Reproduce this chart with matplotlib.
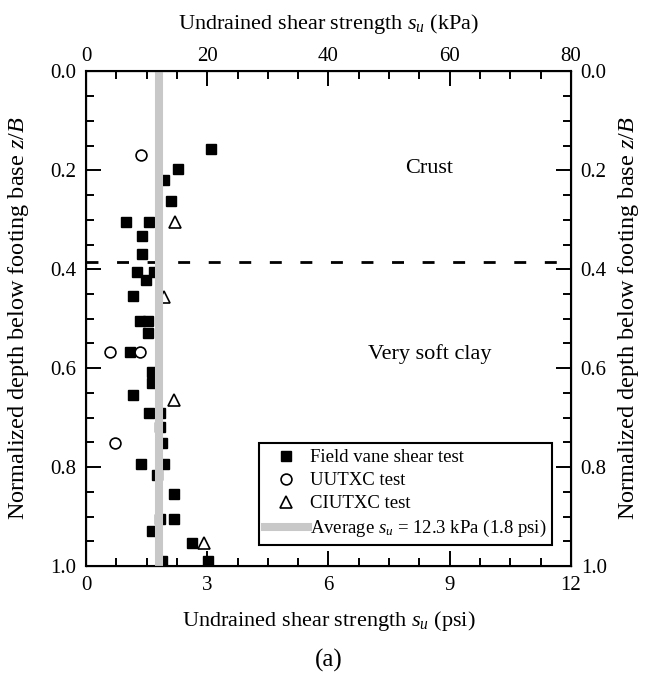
import matplotlib
matplotlib.use("Agg")
import matplotlib.pyplot as plt
from matplotlib.ticker import MultipleLocator
from matplotlib.lines import Line2D

plt.rcParams["font.family"] = ["Liberation Serif", "DejaVu Serif"]
plt.rcParams["mathtext.fontset"] = "custom"
plt.rcParams["mathtext.rm"] = "Liberation Serif"
plt.rcParams["mathtext.it"] = "Liberation Serif:italic"

# Field vane shear test: (s_u in psi, normalized depth z/B)
vane_su = [3.10, 2.27, 1.92, 2.10, 0.98, 1.56, 1.38, 1.38, 1.26, 1.68,
           1.48, 1.17, 1.33, 1.54, 1.54, 1.09, 1.63, 1.63, 1.16, 1.55,
           1.83, 1.82, 1.89, 1.35, 1.94, 1.75, 2.18, 1.82, 2.18, 1.63,
           2.62, 1.88, 3.03]
vane_z = [0.157, 0.197, 0.219, 0.263, 0.304, 0.304, 0.332, 0.369, 0.405, 0.405,
          0.422, 0.455, 0.504, 0.504, 0.529, 0.568, 0.607, 0.631, 0.654, 0.691,
          0.691, 0.719, 0.752, 0.793, 0.793, 0.817, 0.854, 0.905, 0.905, 0.930,
          0.953, 0.990, 0.990]

# Unconsolidated-undrained triaxial compression
uu_su = [1.35, 0.60, 1.34, 0.72]
uu_z = [0.168, 0.568, 0.568, 0.752]

# Isotropically consolidated-undrained triaxial compression
ciu_su = [2.21, 1.94, 2.19, 2.93]
ciu_z = [0.304, 0.457, 0.665, 0.953]

avg_su_psi = 1.8
avg_su_kpa = 12.3
crust_depth = 0.385

psi_range = (0, 12)
kpa_range = (0, 80)
depth_range = (0, 1.0)

fig = plt.figure(figsize=(6.47, 6.77), dpi=100)
ax = fig.add_axes([0.1329, 0.1640, 0.7496, 0.7305])

ms = 7.5
ax.plot(vane_su, vane_z, ls="none", marker="s", ms=ms, mfc="black", mec="black",
        zorder=3)
ax.plot(uu_su, uu_z, ls="none", marker="o", ms=ms + 0.3, mfc="white", mec="black",
        mew=1.2, zorder=3)
ax.plot(ciu_su, ciu_z, ls="none", marker="^", ms=ms + 1.2, mfc="white", mec="black",
        mew=1.2, zorder=3)
ax.axvline(avg_su_psi, color="#c8c8c8", lw=5.8, zorder=4)
ax.axhline(crust_depth, color="black", lw=2.0, ls=(0, (4.3, 6.7)), zorder=2)

ax.text(8.5, 0.197, "Crust", ha="center", va="center", fontsize=16)
ax.text(8.5, 0.571, "Very soft clay", ha="center", va="center", fontsize=16)

ax.set_xlim(*psi_range)
ax.set_ylim(depth_range[1], depth_range[0])
ax.xaxis.set_major_locator(MultipleLocator(3))
ax.xaxis.set_minor_locator(MultipleLocator(0.75))
ax.yaxis.set_major_locator(MultipleLocator(0.2))
ax.yaxis.set_minor_locator(MultipleLocator(0.05))
ax.yaxis.set_major_formatter(plt.FormatStrFormatter("%.1f"))

tick_kw = dict(direction="in", width=1.4, labelsize=15)
ax.tick_params(which="major", length=11, **tick_kw)
ax.tick_params(which="minor", length=5.5, direction="in", width=1.4)
ax.tick_params(axis="x", which="major", pad=7.5)
ax.tick_params(axis="y", which="major", pad=7)
for s in ax.spines.values():
    s.set_linewidth(1.5)

ax.set_xlabel(r"Undrained shear strength $s_u$ (psi)", fontsize=16)
ax.xaxis.set_label_coords(0.5, -0.086)
ax.set_ylabel(r"Normalized depth below footing base $z/B$", fontsize=17.5)
ax.yaxis.set_label_coords(-0.113, 0.5)

# Top axis in kPa
axt = ax.twiny()
axt.set_xlim(*kpa_range)
axt.xaxis.set_major_locator(MultipleLocator(20))
axt.xaxis.set_minor_locator(MultipleLocator(5))
axt.tick_params(which="major", length=11, pad=4, **tick_kw)
axt.tick_params(which="minor", length=5.5, direction="in", width=1.4)
axt.set_xlabel(r"Undrained shear strength $s_u$ (kPa)", fontsize=16)
axt.xaxis.set_label_coords(0.5, 1.086)

# Right axis repeating the depth scale
axr = ax.twinx()
axr.set_ylim(depth_range[1], depth_range[0])
axr.yaxis.set_major_locator(MultipleLocator(0.2))
axr.yaxis.set_minor_locator(MultipleLocator(0.05))
axr.yaxis.set_major_formatter(plt.FormatStrFormatter("%.1f"))
axr.tick_params(which="major", length=11, pad=7, **tick_kw)
axr.tick_params(which="minor", length=5.5, direction="in", width=1.4)
axr.set_ylabel(r"Normalized depth below footing base $z/B$", fontsize=17.5)
axr.yaxis.set_label_coords(1.093, 0.5)

handles = [
    Line2D([], [], ls="none", marker="s", ms=ms, mfc="black", mec="black"),
    Line2D([], [], ls="none", marker="o", ms=ms + 0.3, mfc="white", mec="black", mew=1.2),
    Line2D([], [], ls="none", marker="^", ms=ms + 1.2, mfc="white", mec="black", mew=1.2),
    Line2D([], [], color="#c8c8c8", lw=5.8),
]
labels = ["Field vane shear test", "UUTXC test", "CIUTXC test",
          r"Average $s_u$ = %.1f kPa (%.1f psi)" % (avg_su_kpa, avg_su_psi)]
leg = axr.legend(handles, labels, loc="upper left", bbox_to_anchor=(0.357, 0.248),
                 bbox_transform=ax.transAxes, fontsize=13.5, frameon=True,
                 fancybox=False, edgecolor="black", framealpha=1,
                 borderpad=0.3, handlelength=2.3, handletextpad=0.1,
                 labelspacing=0.32, borderaxespad=0)
leg.get_frame().set_linewidth(1.5)

fig.text(0.5085, 1 - 660 / 677, "(a)", ha="center", va="center", fontsize=18)

fig.savefig("out.png", dpi=100)
